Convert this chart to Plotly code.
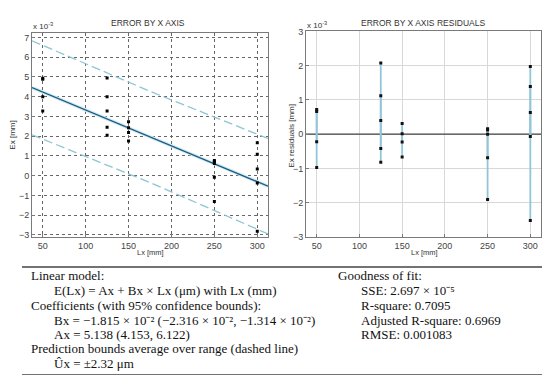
import plotly.graph_objects as go

# ---- data (Ex in units of 1e-3 mm) ----
lx = [50, 50, 50, 50, 125, 125, 125, 125, 125, 150, 150, 150, 150,
      250, 250, 250, 250, 250, 300, 300, 300, 300, 300]
ex = [4.93, 4.88, 4.00, 3.27, 4.95, 3.99, 3.27, 2.45, 2.05, 2.73, 2.42, 2.19, 1.75,
      0.77, 0.72, 0.61, -0.08, -1.31, 1.67, 1.08, 0.33, -0.37, -2.82]
resid = [0.72, 0.66, -0.22, -0.97, 2.08, 1.12, 0.40, -0.42, -0.82, 0.31, 0.01, -0.23, -0.67,
         0.16, 0.12, 0.00, -0.69, -1.91, 1.98, 1.39, 0.63, -0.07, -2.52]
coef_a = 5.138
coef_b = -1.815e-2
xrange_fit = [37.5, 312.5]
bound_x = [37.5, 175, 312.5]
bound_upper = [6.83, 4.27, 1.88]
bound_lower = [2.07, -0.35, -2.95]
xticks = [50, 100, 150, 200, 250, 300]

W, H = 550, 375
def px(x):
    return x / W
def py(y):
    return 1 - y / H

fit_y = [coef_a + coef_b * x for x in xrange_fit]

stem_x, stem_y = [], []
for x, r in zip(lx, resid):
    stem_x += [x, x, None]
    stem_y += [0, r, None]

fig = go.Figure()
# left plot
for yb in (bound_upper, bound_lower):
    fig.add_trace(go.Scatter(x=bound_x, y=yb, mode="lines", xaxis="x", yaxis="y",
                             line=dict(color="#8cc6d5", width=1.3, dash="9px,4px")))
fig.add_trace(go.Scatter(x=xrange_fit, y=fit_y, mode="lines", xaxis="x", yaxis="y",
                         line=dict(color="#d2ecf5", width=3.5)))
fig.add_trace(go.Scatter(x=xrange_fit, y=fit_y, mode="lines", xaxis="x", yaxis="y",
                         line=dict(color="#1d5a80", width=1.4)))
fig.add_trace(go.Scatter(x=lx, y=ex, mode="markers", xaxis="x", yaxis="y",
                         marker=dict(color="black", size=3, symbol="square")))
# right plot
fig.add_trace(go.Scatter(x=xrange_fit, y=[0, 0], mode="lines", xaxis="x2", yaxis="y2",
                         line=dict(color="#444444", width=1.2)))
fig.add_trace(go.Scatter(x=stem_x, y=stem_y, mode="lines", xaxis="x2", yaxis="y2",
                         line=dict(color="#93c5d8", width=1.8)))
fig.add_trace(go.Scatter(x=lx, y=resid, mode="markers", xaxis="x2", yaxis="y2",
                         marker=dict(color="#111111", size=3, symbol="square")))

tickfont = dict(family="Liberation Sans, Arial", size=9, color="#444444")
ax_common = dict(showline=True, linecolor="#7a7a7a", linewidth=1, mirror=True,
                 ticks="inside", ticklen=3, tickcolor="#7a7a7a", zeroline=False,
                 tickfont=tickfont)

fig.update_layout(
    width=W, height=H, margin=dict(l=0, r=0, t=0, b=0),
    paper_bgcolor="white", plot_bgcolor="white", showlegend=False,
    xaxis=dict(domain=[px(24), px(260)], range=[37.5, 312.5], anchor="y",
               tickvals=xticks, showgrid=True, gridcolor="#666666", griddash="dot",
               gridwidth=1, **ax_common),
    yaxis=dict(domain=[py(230), py(21)], range=[-3.1, 7.2], anchor="x",
               tickvals=list(range(-3, 8)), showgrid=True, gridcolor="#666666",
               griddash="dot", gridwidth=1, **ax_common),
    xaxis2=dict(domain=[px(298), px(533)], range=[37.5, 312.5], anchor="y2",
                tickvals=xticks, showgrid=True, gridcolor="#d8d8d8", gridwidth=1,
                **ax_common),
    yaxis2=dict(domain=[py(230), py(19)], range=[-3, 3], anchor="x2",
                tickvals=list(range(-3, 4)), showgrid=True, gridcolor="#d8d8d8",
                gridwidth=1, **ax_common),
)

sans = "Liberation Sans, Arial"
serif = "Liberation Serif, Times New Roman"
anns = [
    dict(text="ERROR BY X AXIS", x=px(140), y=py(10), size=8.5, xa="center", fam=sans),
    dict(text="ERROR BY X AXIS RESIDUALS", x=px(415), y=py(10), size=8.5, xa="center", fam=sans),
    dict(text="x 10<sup>-3</sup>", x=px(23), y=py(13), size=8, xa="left", fam=sans),
    dict(text="x 10<sup>-3</sup>", x=px(297), y=py(12), size=8, xa="left", fam=sans),
    dict(text="Lx [mm]", x=px(142), y=py(246), size=7.5, xa="center", fam=sans),
    dict(text="Lx [mm]", x=px(416), y=py(246), size=7.5, xa="center", fam=sans),
]
for a in anns:
    fig.add_annotation(text=a["text"], x=a["x"], y=a["y"], xref="paper", yref="paper",
                       xanchor=a["xa"], yanchor="middle", showarrow=False,
                       font=dict(family=a["fam"], size=a["size"], color="#333333"))
fig.add_annotation(text="Ex [mm]", x=px(5), y=py(126), xref="paper", yref="paper",
                   textangle=-90, showarrow=False, xanchor="center", yanchor="middle",
                   font=dict(family=sans, size=8, color="#333333"))
fig.add_annotation(text="Ex residuals [mm]", x=px(284), y=py(126), xref="paper", yref="paper",
                   textangle=-90, showarrow=False, xanchor="center", yanchor="middle",
                   font=dict(family=sans, size=8, color="#333333"))

# text block
left_lines = [
    (21, 270, "Linear model:"),
    (44, 285, "E(Lx) = Ax + Bx × Lx (μm) with Lx (mm)"),
    (21, 300, "Coefficients (with 95% confidence bounds):"),
    (44, 316, "Bx = −1.815 × 10⁻² (−2.316 × 10⁻², −1.314 × 10⁻²)"),
    (44, 330, "Ax = 5.138 (4.153, 6.122)"),
    (21, 345, "Prediction bounds average over range (dashed line)"),
    (44, 360, "Ûx = ±2.32 μm"),
]
right_lines = [
    (328, 270, "Goodness of fit:"),
    (351, 285, "SSE: 2.697 × 10⁻⁵"),
    (351, 300, "R-square: 0.7095"),
    (351, 316, "Adjusted R-square: 0.6969"),
    (351, 330, "RMSE: 0.001083"),
]
for x, y, t in left_lines + right_lines:
    fig.add_annotation(text=t, x=px(x), y=py(y), xref="paper", yref="paper",
                       xanchor="left", yanchor="middle", showarrow=False,
                       font=dict(family=serif, size=13, color="#111111"))

for y in (261, 372):
    fig.add_shape(type="line", xref="paper", yref="paper", x0=px(14), x1=1,
                  y0=py(y), y1=py(y), line=dict(color="#444444", width=1.5))

fig.write_html("out.html")
